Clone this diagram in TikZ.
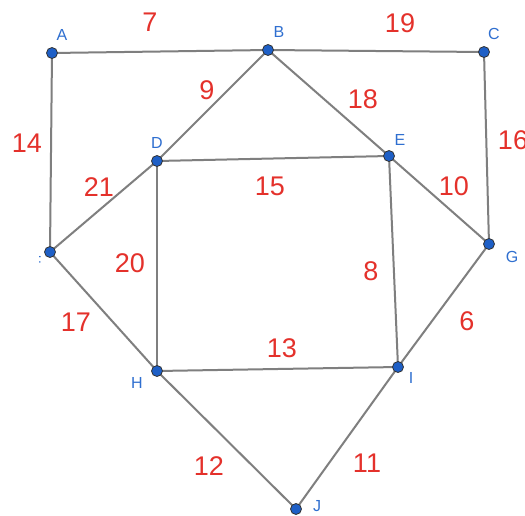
\documentclass[tikz,border=0pt]{standalone}
\usepackage{fontspec}
\setmainfont{Liberation Sans}
\definecolor{wred}{HTML}{E4312B}
\definecolor{lblue}{HTML}{2F6FD0}
\definecolor{nblue}{HTML}{1E5FC6}
\definecolor{egray}{HTML}{7F7F7F}
\begin{document}
\begin{tikzpicture}[x=1pt,y=-1pt,
  vert/.style={circle,fill=nblue,draw=black!80,line width=0.8pt,inner sep=0pt,minimum size=11pt},
  edge/.style={egray,line width=2pt},
  wt/.style={text=wred,font=\fontsize{27}{27}\selectfont,inner sep=0pt},
  lbl/.style={text=lblue,font=\fontsize{16}{16}\selectfont,inner sep=0pt}]
\useasboundingbox[fill=white] (0,0) rectangle (525,515);
\coordinate (A) at (52,53);
\coordinate (B) at (268,50);
\coordinate (C) at (484,52);
\coordinate (D) at (157,161);
\coordinate (E) at (389,156);
\coordinate (F) at (50,252);
\coordinate (G) at (489,244);
\coordinate (H) at (157,371);
\coordinate (I) at (398,367);
\coordinate (J) at (296,509);
\foreach \u/\v in {A/B,B/C,A/F,B/D,B/E,C/G,D/E,D/F,D/H,E/G,E/I,F/H,G/I,H/I,H/J,I/J}
  \draw[edge] (\u) -- (\v);
\foreach \p in {A,B,C,D,E,F,G,H,I,J}
  \node[vert] (n\p) at (\p) {};
\node[lbl] (lA) at (62,35) {A};
\node[lbl] (lB) at (279,32) {B};
\node[lbl] (lC) at (494,34) {C};
\node[lbl] (lD) at (157,143) {D};
\node[lbl] (lE) at (400,140) {E};
\begin{scope}
\clip (39,0) rectangle (525,515);
\node[lbl] (lF) at (36.5,262) {F};
\end{scope}
\node[lbl] (lG) at (512,257) {G};
\node[lbl] (lH) at (137,383) {H};
\node[lbl] (lI) at (411,378) {I};
\node[lbl] (lJ) at (317,506) {J};
\node[wt] (w7) at (150,22) {7};
\node[wt] (w19) at (400,23) {19};
\node[wt] (w14) at (27,143) {14};
\node[wt] (w9) at (207,90) {9};
\node[wt] (w18) at (363,99) {18};
\node[wt] (w16) at (513,140) {16};
\node[wt] (w21) at (99,187) {21};
\node[wt] (w15) at (270,186) {15};
\node[wt] (w10) at (454,186) {10};
\node[wt] (w20) at (130,263) {20};
\node[wt] (w8) at (371,271) {8};
\node[wt] (w6) at (467,321) {6};
\node[wt] (w17) at (76,322) {17};
\node[wt] (w13) at (282,348) {13};
\node[wt] (w12) at (209,466) {12};
\node[wt] (w11) at (367,463) {11};
\end{tikzpicture}
\end{document}
